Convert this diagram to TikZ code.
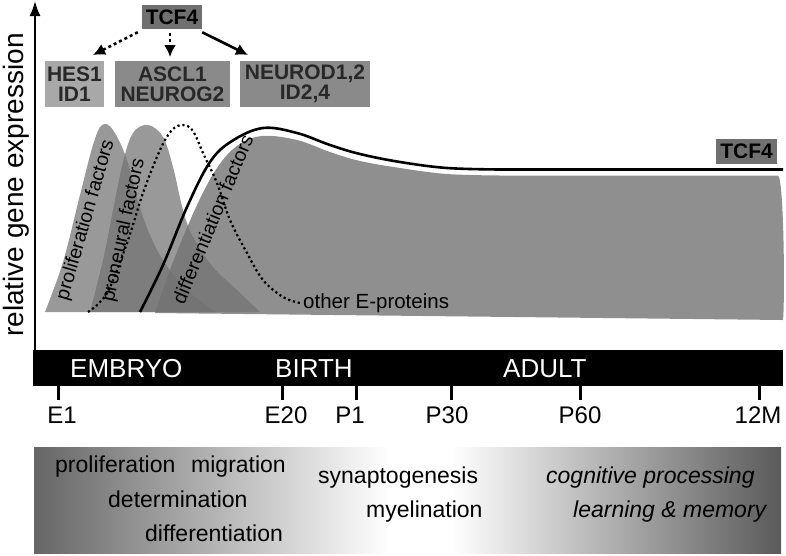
\documentclass[tikz,border=0pt]{standalone}
\usepackage{fontspec}
\setmainfont{Liberation Sans}
\usetikzlibrary{arrows.meta}
\definecolor{shapegray}{RGB}{115,115,115}
\definecolor{biggray}{RGB}{143,143,143}
\definecolor{lightbox}{RGB}{168,168,168}
\definecolor{midbox}{RGB}{138,138,138}
\definecolor{darkbox}{RGB}{112,112,112}
\definecolor{boxtext}{RGB}{40,40,40}
\definecolor{gradl}{RGB}{102,102,102}
\definecolor{gradr}{RGB}{90,90,90}
\begin{document}
\begin{tikzpicture}[x=1pt,y=-1pt,
  genebox/.style={fill=#1, inner sep=0pt, align=center, font=\fontsize{21}{20}\selectfont\bfseries, text=boxtext},
  peakfill/.style={fill=shapegray, fill opacity=0.73},
  arr/.style={line width=2.6pt, -{Latex[length=12pt,width=12pt]}},
  dotarr/.style={arr, dash pattern=on 3pt off 3pt},
  barlabel/.style={text=white, anchor=base west, font=\fontsize{26}{28}\selectfont, inner sep=0pt},
  ticklabel/.style={anchor=base, font=\fontsize{24}{26}\selectfont, inner sep=0pt},
  proc/.style={anchor=base west, font=\fontsize{23}{26}\selectfont, inner sep=0pt},
  rotlabel/.style={font=\fontsize{19.5}{20}\selectfont, inner sep=0pt},
  tickline/.style={line width=3pt}]
\useasboundingbox (0,0) rectangle (786,555);

% big TCF4 / differentiation shape
\fill[biggray] plot[smooth, tension=0.6] coordinates {(155,313) (173,262) (197,205) (217,168) (237,146) (262,136) (297,140) (330,152) (360,161) (400,168) (447,174) (500,175.5)} -- (778,175.5) .. controls (784,178) and (785,300) .. (783,320) -- cycle;
% proliferation factors
\fill[peakfill] plot[smooth, tension=0.6] coordinates {(45,312) (63,262) (80,195) (93,145) (102,125) (113,130) (127,160) (140,208) (157,250) (180,283) (203,303) (217,312)} -- cycle;
% proneural factors
\fill[peakfill] plot[smooth, tension=0.6] coordinates {(90,312) (103,260) (113,210) (123,162) (133,133) (148,125) (163,137) (173,167) (183,210) (193,237) (213,267) (237,290) (260,312)} -- cycle;

% other E-proteins (dotted)
\draw[line width=2.2pt, dash pattern=on 2.2pt off 2.8pt] plot[smooth, tension=0.6] coordinates {(88,312) (107,293) (127,243) (143,193) (160,150) (172,130) (183,125) (193,131) (203,153) (217,183) (230,220) (247,253) (263,280) (283,297) (300,303)};
\coordinate (eend) at (303,303);
\node[anchor=west, font=\fontsize{20.5}{22}\selectfont, inner sep=0pt] (eprot) at (eend) {other E-proteins};

% TCF4 curve
\draw[line width=2.6pt] plot[smooth, tension=0.6] coordinates {(140,312) (163,265) (187,207) (210,162) (232,141) (263,128) (297,133) (330,145) (360,154) (400,162) (447,168) (500,169.5)} -- (783,169.5);
\node[genebox=darkbox, text=black, minimum width=61pt, minimum height=25pt] (tcfr) at (746.5,151.5) {TCF4};

% rotated labels
\node[rotlabel, rotate=73.8] (lprol) at (86,220) {proliferation factors};
\node[rotlabel, rotate=78] (lpron) at (124,230) {proneural factors};
\node[rotlabel, rotate=67.3] (ldiff) at (212.5,219.5) {differentiation factors};

% y axis
\coordinate (ybot) at (35,352);
\coordinate (ytop) at (35,1);
\draw[line width=2pt, -{Latex[length=15pt,width=11pt]}] (ybot) -- (ytop);
\node[rotate=90, font=\fontsize{28}{30}\selectfont, inner sep=0pt] (ylab) at (16,185) {relative gene expression};

% top boxes
\node[genebox=darkbox, text=black, minimum width=60pt, minimum height=24pt] (tcf) at (172,17) {TCF4};
\node[genebox=lightbox, minimum width=59pt, minimum height=46pt] (hes) at (74.5,84) {HES1\\ID1};
\node[genebox=midbox, minimum width=115pt, minimum height=46pt] (ascl) at (172.5,84) {ASCL1\\NEUROG2};
\node[genebox=midbox, minimum width=130pt, minimum height=46pt] (neurod) at (305,84) {NEUROD1,2\\ID2,4};
\coordinate (t1) at (93,55);
\coordinate (t2) at (170,57);
\coordinate (t3) at (248,55);
\draw[dotarr] ([xshift=-4pt,yshift=-3pt]tcf.south west) -- (t1);
\draw[dotarr] ([xshift=-2pt,yshift=-4pt]tcf.south) -- (t2);
\draw[arr] ([yshift=-3pt]tcf.south east) -- (t3);

% time bar
\fill (33,350) rectangle (783,386);
\node[barlabel] (emb) at (70,377) {EMBRYO};
\node[barlabel] (bir) at (275,377) {BIRTH};
\node[barlabel] (adu) at (503,377) {ADULT};
\foreach \tx in {58,282,356,451,580,759} {
  \draw[tickline] (\tx,386) -- (\tx,400);
}
\node[ticklabel] (e1) at (62,423) {E1};
\node[ticklabel] (e20) at (286,423) {E20};
\node[ticklabel] (p1) at (350,423) {P1};
\node[ticklabel] (p30) at (447,423) {P30};
\node[ticklabel] (p60) at (580,423) {P60};
\node[ticklabel] (m12) at (758,423) {12M};

% gradient box
\shade[left color=gradl, right color=white] (34,447) rectangle (389,553);
\fill[white] (388,447) rectangle (453,553);
\shade[left color=white, right color=gradr] (452,447) rectangle (781,553);
\node[proc] (pr) at (55,472) {proliferation};
\node[proc] (mi) at (191,472) {migration};
\node[proc] (de) at (108,507) {determination};
\node[proc] (di) at (145,541) {differentiation};
\node[proc] (sy) at (318,483) {synaptogenesis};
\node[proc] (my) at (366,517) {myelination};
\node[proc, font=\fontsize{23}{26}\selectfont\itshape] (co) at (546,483) {cognitive processing};
\node[proc, font=\fontsize{23}{26}\selectfont\itshape] (le) at (573,517) {learning \& memory};
\end{tikzpicture}
\end{document}
